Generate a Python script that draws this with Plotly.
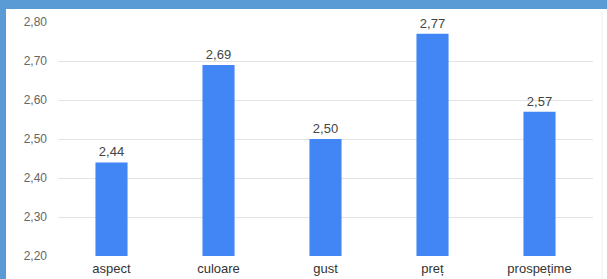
import plotly.graph_objects as go

categories = ["aspect", "culoare", "gust", "preț", "prospețime"]
values = [2.44, 2.69, 2.50, 2.77, 2.57]
y_ticks = [2.20, 2.30, 2.40, 2.50, 2.60, 2.70, 2.80]

W, H = 607, 279
ml, mr, mt, mb = 58, 14, 22, 23
pw = W - ml - mr
ph = H - mt - mb

def px_x(p):
    return (p - ml) / pw

def px_y(p):
    return (H - mb - p) / ph

fig = go.Figure()
fig.add_trace(go.Bar(
    x=categories, y=values,
    marker=dict(color="#4285F4", line=dict(width=0)),
    texttemplate="%{y:.2f}", textposition="outside",
    textfont=dict(family="Liberation Sans", size=13, color="#444444"),
    cliponaxis=False,
    width=0.3,
    hoverinfo="skip",
))

fig.update_layout(
    width=W, height=H,
    margin=dict(l=ml, r=mr, t=mt, b=mb, pad=0, autoexpand=False),
    paper_bgcolor="#5B9BD5",
    plot_bgcolor="white",
    separators=", ",
    showlegend=False,
    font=dict(family="Liberation Sans", size=13, color="#444444"),
    shapes=[
        dict(type="rect", xref="paper", yref="paper",
             x0=px_x(6), x1=px_x(612), y0=px_y(290), y1=px_y(9),
             fillcolor="white", line=dict(width=0), layer="below"),
        dict(type="line", xref="paper", yref="paper",
             x0=px_x(602), x1=px_x(602), y0=px_y(290), y1=px_y(12),
             line=dict(color="#EEEEEE", width=1), layer="below"),
    ],
    xaxis=dict(showgrid=False, showline=False, ticks="", automargin=False,
               ticklabelstandoff=3,
               tickfont=dict(size=13, color="#333333")),
    yaxis=dict(range=[2.2, 2.8], tickvals=y_ticks, tickformat=".2f",
               automargin=False,
               showgrid=True, gridcolor="#E3E3E3", gridwidth=1,
               zeroline=False, showline=False, ticks="",
               ticklabelstandoff=10,
               tickfont=dict(size=12, color="#666666")),
)

fig.write_html("out.html",
               config={"displayModeBar": False},
               post_script="document.body.style.margin='0';document.body.style.background='#5B9BD5';")
